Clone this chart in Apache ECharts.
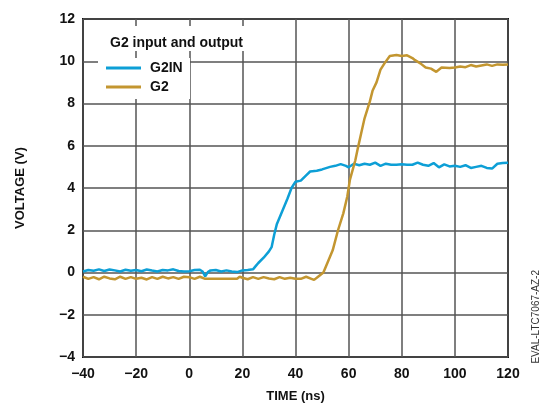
<!DOCTYPE html>
<html>
<head>
<meta charset="utf-8">
<script src="https://cdn.jsdelivr.net/npm/echarts@6/dist/echarts.min.js"></script>
<style>
  html, body { margin: 0; padding: 0; background: #fff; }
  #main { width: 540px; height: 404px; }
</style>
</head>
<body>
<div id="main"></div>
<script>
// G2IN (input) trace, time in ns / voltage in V
var g2inTime = [-40, -38, -36, -34, -32, -30, -28, -26, -24, -22, -20, -18, -16, -14, -12, -10, -8, -6, -4, -2,
  0, 2, 4, 5, 6, 7, 8, 10, 12, 14, 16, 18, 20, 22, 24, 25, 26, 28, 30, 31, 32, 33, 35, 37, 38.5, 40,
  42, 44, 45.5, 48, 50, 53, 55, 57, 59, 60, 62, 64, 66, 68, 70, 72, 74, 76, 78, 80, 82, 84, 86, 88,
  90, 92, 94, 96, 98, 100, 102, 104, 106, 108, 110, 112, 114, 116, 118, 120];
var g2inVolt = [0.05, 0.12, 0.08, 0.15, 0.07, 0.14, 0.1, 0.05, 0.13, 0.08, 0.12, 0.06, 0.14, 0.09, 0.05, 0.12, 0.1, 0.15, 0.07, 0.05,
  0.06, 0.12, 0.13, 0.05, -0.18, 0.02, 0.1, 0.12, 0.05, 0.1, 0.05, 0.02, 0.1, 0.12, 0.15, 0.3, 0.45, 0.7, 1.0, 1.2, 1.8, 2.3, 2.9, 3.5, 4.0, 4.3,
  4.35, 4.6, 4.78, 4.82, 4.88, 5.0, 5.05, 5.13, 5.05, 4.98, 5.15, 5.08, 5.15, 5.1, 5.2, 5.05, 5.15, 5.1, 5.1, 5.12, 5.1, 5.1, 5.2, 5.1,
  5.05, 5.18, 4.98, 5.12, 5.02, 5.05, 5.0, 5.08, 4.95, 5.0, 5.05, 4.95, 4.92, 5.15, 5.18, 5.2];

// G2 (output) trace
var g2Time = [-40, -38, -36, -34, -32, -30, -28, -26, -24, -22, -20, -18, -16, -14, -12, -10, -8, -6, -4, -2,
  0, 2, 4, 6, 8, 10, 12, 14, 16, 18, 19, 20, 22, 24, 26, 28, 30, 32, 34, 36, 38, 40, 42, 44, 46, 47,
  48.5, 50.5, 52, 54, 56, 58, 59.5, 60.5, 62.5, 63.5, 65, 66, 68, 69, 70.5, 72, 73.5, 75.5, 78, 80,
  82, 84, 85, 87, 89, 91, 93, 95, 98, 100, 102, 104, 106, 108, 110, 112, 114, 116, 118, 120];
var g2Volt = [-0.2, -0.3, -0.22, -0.32, -0.2, -0.28, -0.32, -0.2, -0.3, -0.22, -0.3, -0.25, -0.33, -0.22, -0.3, -0.2, -0.28, -0.22, -0.3, -0.2,
  -0.22, -0.3, -0.2, -0.3, -0.3, -0.3, -0.3, -0.3, -0.3, -0.3, -0.2, -0.25, -0.32, -0.22, -0.3, -0.22, -0.28, -0.32, -0.22, -0.3, -0.25, -0.3, -0.3, -0.2, -0.3, -0.35,
  -0.2, 0.0, 0.45, 1.05, 2.0, 2.8, 3.6, 4.4, 5.3, 5.9, 6.75, 7.3, 8.1, 8.6, 9.0, 9.6, 9.9, 10.25, 10.3, 10.25,
  10.28, 10.15, 10.05, 9.9, 9.7, 9.65, 9.5, 9.7, 9.68, 9.7, 9.75, 9.72, 9.82, 9.75, 9.8, 9.85, 9.78, 9.85, 9.83, 9.85];

function pairs(t, v) {
  return t.map(function (x, i) { return [x, v[i]]; });
}
function minus(val) {
  return val < 0 ? '\u2212' + Math.abs(val) : '' + val;
}

var chart = echarts.init(document.getElementById('main'));
var font = 'Liberation Sans, Arial, sans-serif';

var option = {
  animation: false,
  grid: {
    left: 83, right: 32, top: 19, bottom: 47,
    outerBoundsMode: 'none',
    show: true, borderColor: '#111', borderWidth: 2
  },
  legend: {
    orient: 'vertical',
    left: 106, top: 61,
    padding: 0,
    icon: 'rect',
    itemWidth: 35, itemHeight: 3,
    itemGap: 5,
    z: 10,
    textStyle: { fontFamily: font, fontWeight: 'bold', fontSize: 14, color: '#111', padding: [0, 0, 0, 4] },
    data: ['G2IN', 'G2']
  },
  graphic: [
    // white boxes behind legend title and legend items
    {
      type: 'rect', left: 100, top: 26, z: 1,
      shape: { width: 148, height: 25 },
      style: { fill: '#fff' }
    },
    {
      type: 'rect', left: 98, top: 58, z: 1,
      shape: { width: 92, height: 41 },
      style: { fill: '#fff' }
    },
    {
      type: 'text', left: 110, top: 36, z: 6,
      style: { text: 'G2 input and output', font: 'bold 14px ' + font, fill: '#111' }
    },
    {
      type: 'text', left: 531, top: 270, rotation: Math.PI / 2, z: 6,
      style: { text: 'EVAL-LTC7067-AZ-2', font: '10px ' + font, fill: '#333' }
    }
  ],
  xAxis: {
    type: 'value', min: -40, max: 120, interval: 20,
    name: 'TIME (ns)', nameLocation: 'middle', nameGap: 33,
    nameTextStyle: { fontFamily: font, fontWeight: 'bold', fontSize: 13, color: '#111' },
    axisLine: { show: false },
    axisTick: { show: false },
    axisLabel: { fontFamily: font, fontWeight: 'bold', fontSize: 14, color: '#111', margin: 10, formatter: minus },
    splitLine: { lineStyle: { color: '#555', width: 1.5 } }
  },
  yAxis: {
    type: 'value', min: -4, max: 12, interval: 2,
    name: 'VOLTAGE (V)', nameLocation: 'middle', nameGap: 56,
    nameTextStyle: { fontFamily: font, fontWeight: 'bold', fontSize: 13, color: '#111' },
    axisLine: { show: false },
    axisTick: { show: false },
    axisLabel: { fontFamily: font, fontWeight: 'bold', fontSize: 14, color: '#111', margin: 8, formatter: minus },
    splitLine: { lineStyle: { color: '#555', width: 1.5 } }
  },
  series: [
    {
      name: 'G2IN', type: 'line', showSymbol: false, z: 3,
      data: pairs(g2inTime, g2inVolt),
      lineStyle: { color: '#0d9fd6', width: 2.5 },
      itemStyle: { color: '#0d9fd6' }
    },
    {
      name: 'G2', type: 'line', showSymbol: false, z: 3,
      data: pairs(g2Time, g2Volt),
      lineStyle: { color: '#c39630', width: 2.5 },
      itemStyle: { color: '#c39630' }
    }
  ]
};

chart.setOption(option);
</script>
</body>
</html>
